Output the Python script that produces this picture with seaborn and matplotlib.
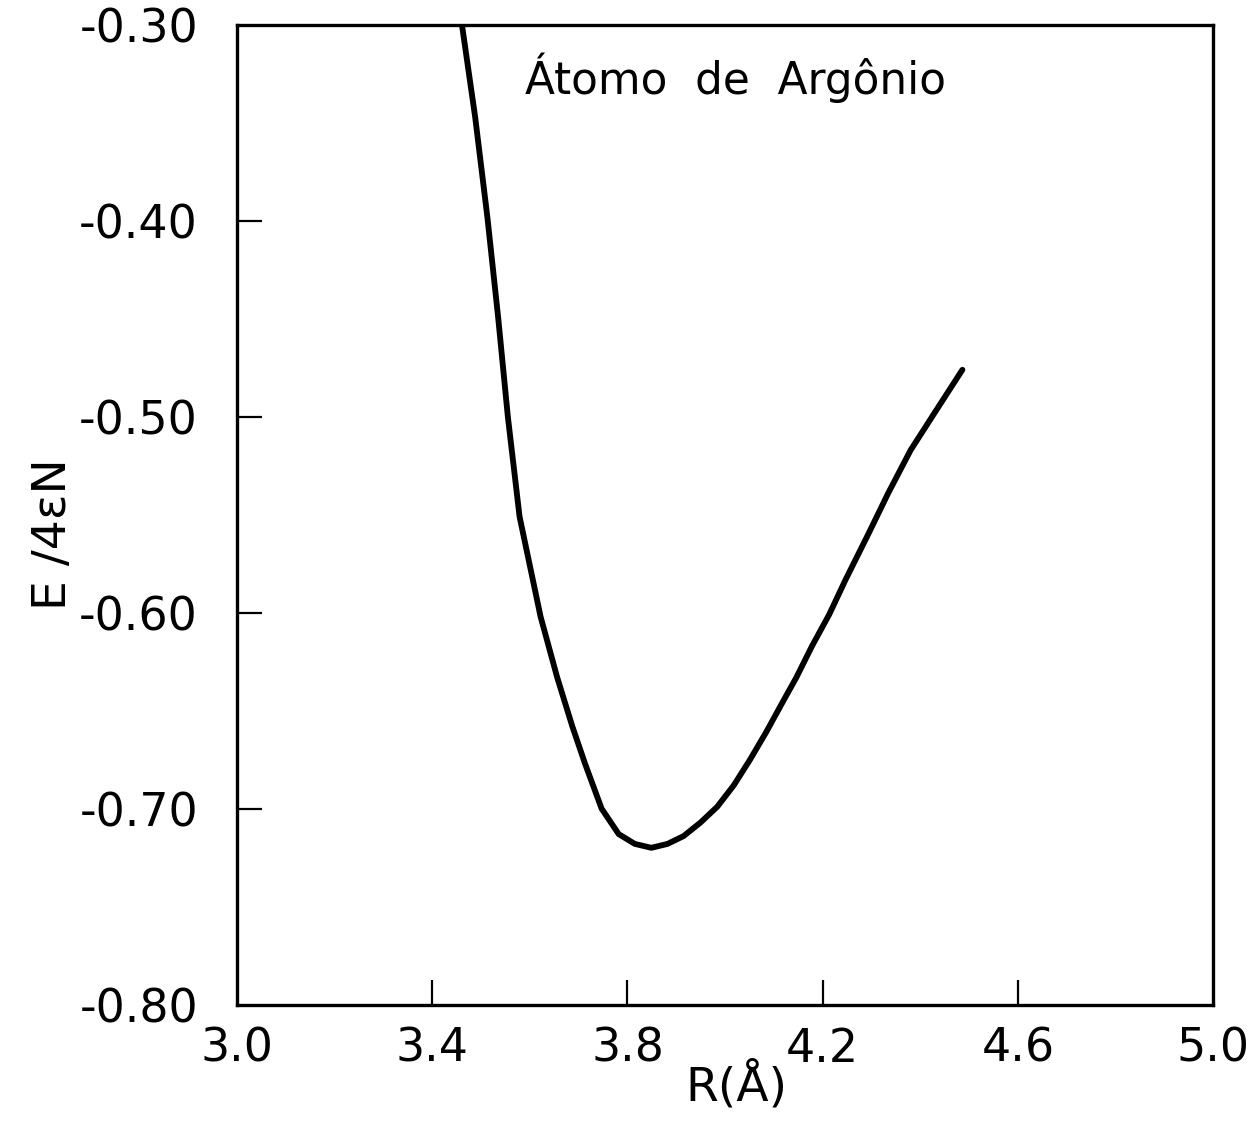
import matplotlib
matplotlib.use("Agg")
import matplotlib.pyplot as plt
import seaborn as sns
import pandas as pd

# Energy per atom of argon vs. interatomic distance
r_angstrom = [3.461, 3.488, 3.513, 3.535, 3.555, 3.579, 3.622, 3.656, 3.687,
              3.713, 3.747, 3.782, 3.815, 3.849, 3.882, 3.915, 3.950, 3.984,
              4.018, 4.051, 4.084, 4.117, 4.146, 4.178, 4.213, 4.247, 4.293,
              4.334, 4.380, 4.429, 4.486]
energy = [-0.300, -0.347, -0.398, -0.449, -0.500, -0.551, -0.602, -0.633, -0.658,
          -0.677, -0.700, -0.713, -0.718, -0.720, -0.718, -0.714, -0.707, -0.699,
          -0.688, -0.675, -0.661, -0.646, -0.633, -0.617, -0.601, -0.583, -0.560,
          -0.539, -0.517, -0.498, -0.476]

x_ticks = [3.0, 3.4, 3.8, 4.2, 4.6, 5.0]
x_tick_labels = ["3.0", "3.4", "3.8", "4.2", "4.6", "5.0"]
y_ticks = [-0.30, -0.40, -0.50, -0.60, -0.70, -0.80]
y_tick_labels = ["-0.30", "-0.40", "-0.50", "-0.60", "-0.70", "-0.80"]

title_text = "Átomo  de  Argônio"
x_label = "R(Å)"
y_label = "E /4εN"

df = pd.DataFrame({"R": r_angstrom, "E": energy})

sns.set_theme(style="white")
plt.rcParams["font.family"] = ["DejaVu Sans"]

fig = plt.figure(figsize=(12.6, 11.3), dpi=100)
ax = fig.add_axes([0.188, 0.111, 0.775, 0.867])

sns.lineplot(data=df, x="R", y="E", ax=ax, color="black", linewidth=4.2,
             sort=False, estimator=None, solid_joinstyle="round",
             solid_capstyle="round")

ax.set_xlim(3.0, 5.0)
ax.set_ylim(-0.80, -0.30)

ax.set_xticks(x_ticks)
ax.set_xticklabels(x_tick_labels)
ax.set_yticks(y_ticks)
ax.set_yticklabels(y_tick_labels)

ax.tick_params(axis="both", which="major", direction="in", length=18,
               width=1.6, color="black", labelcolor="black", labelsize=33,
               left=True, bottom=True, right=False, top=False)
ax.tick_params(axis="y", pad=28)
ax.tick_params(axis="x", pad=16)

# the end ticks sit on the frame corners, so only the inner ones are drawn
for ticks in (ax.xaxis.get_major_ticks(), ax.yaxis.get_major_ticks()):
    ticks[0].tick1line.set_visible(False)
    ticks[-1].tick1line.set_visible(False)

for side in ("left", "right", "top", "bottom"):
    ax.spines[side].set_visible(True)
    ax.spines[side].set_color("black")
    ax.spines[side].set_linewidth(2.4)

ax.grid(False)

ax.set_xlabel(x_label, fontsize=34, color="black")
ax.set_ylabel(y_label, fontsize=34, color="black")
ax.xaxis.set_label_coords(0.512, -0.058)
ax.yaxis.set_label_coords(-0.165, 0.48)

ax.text(3.59, -0.3355, title_text, fontsize=31.5, color="black",
        ha="left", va="baseline")

fig.savefig("out.png", dpi=100, facecolor="white")
